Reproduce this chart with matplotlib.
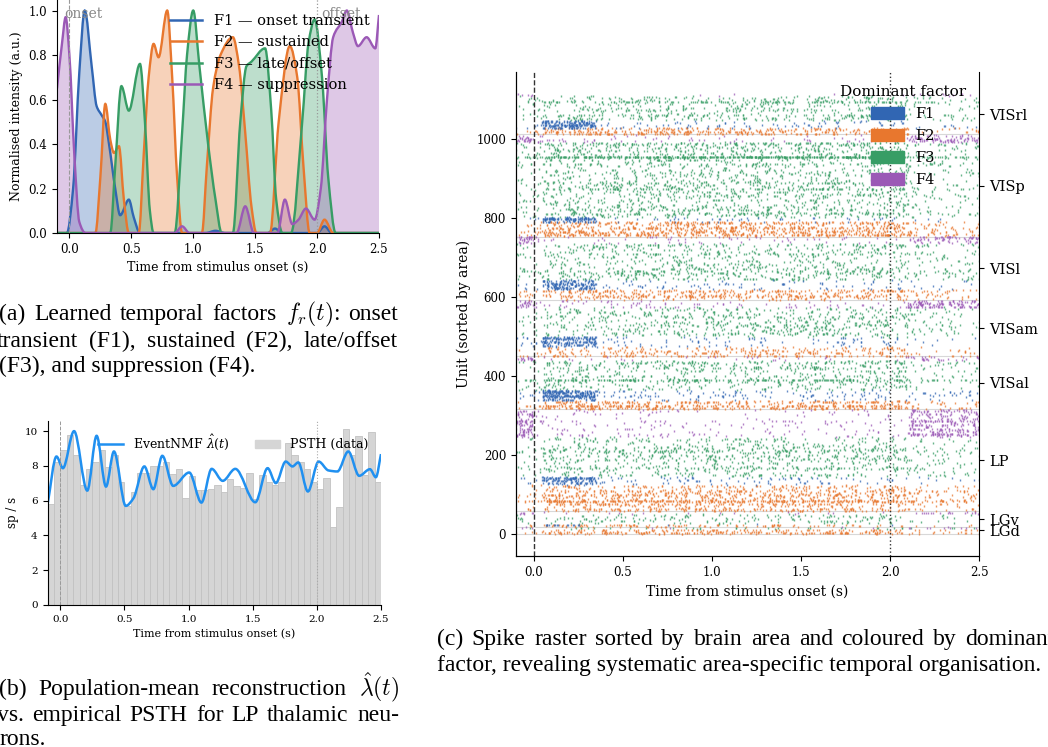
import numpy as np
import matplotlib
matplotlib.use("Agg")
import matplotlib.pyplot as plt
from matplotlib.path import Path
from matplotlib.patches import PathPatch, Patch
from matplotlib.lines import Line2D

plt.rcParams["font.family"] = "DejaVu Serif"
plt.rcParams["mathtext.fontset"] = "dejavuserif"

W, H = 1048, 747

# ---------------- (a) temporal factors, key points (s, a.u.)
f1_t = [-0.1, -0.02, 0.03, 0.08, 0.124, 0.18, 0.22, 0.26, 0.29, 0.32, 0.37, 0.41, 0.48, 0.52, 0.57, 1.1, 1.18, 1.26, 1.6, 1.66, 1.72, 2.0, 2.06, 2.12, 2.5]
f1_y = [0.0, 0.0, 0.2, 0.72, 1.0, 0.75, 0.57, 0.53, 0.5, 0.4, 0.2, 0.08, 0.15, 0.07, 0.0, 0.0, 0.01, 0.0, 0.0, 0.02, 0.0, 0.0, 0.03, 0.0, 0.0]
f2_t = [-0.1, 0.21, 0.25, 0.29, 0.33, 0.36, 0.40, 0.44, 0.48, 0.56, 0.60, 0.64, 0.68, 0.72, 0.79, 0.83, 0.87, 0.91, 1.07, 1.11, 1.16, 1.22, 1.32, 1.37, 1.42, 1.47, 1.51, 1.62, 1.69, 1.78, 1.84, 1.89, 1.94, 2.0, 2.06, 2.13, 2.5]
f2_y = [0.0, 0.0, 0.25, 0.58, 0.42, 0.36, 0.39, 0.15, 0.0, 0.0, 0.35, 0.7, 0.85, 0.79, 1.0, 0.7, 0.25, 0.0, 0.0, 0.3, 0.65, 0.8, 0.88, 0.75, 0.45, 0.12, 0.0, 0.0, 0.5, 0.84, 0.7, 0.3, 0.0, 0.0, 0.06, 0.0, 0.0]
f3_t = [-0.1, 0.33, 0.37, 0.42, 0.48, 0.57, 0.61, 0.65, 0.68, 0.85, 0.91, 0.95, 1.0, 1.05, 1.12, 1.18, 1.23, 1.32, 1.38, 1.43, 1.47, 1.58, 1.63, 1.67, 1.72, 1.79, 1.88, 1.93, 1.98, 2.04, 2.09, 2.15, 2.5]
f3_y = [0.0, 0.0, 0.3, 0.66, 0.55, 0.76, 0.5, 0.1, 0.0, 0.0, 0.45, 0.8, 1.0, 0.75, 0.4, 0.15, 0.0, 0.0, 0.5, 0.75, 0.77, 0.83, 0.55, 0.15, 0.0, 0.0, 0.5, 0.85, 0.96, 0.7, 0.25, 0.0, 0.0]
f4_t = [-0.1, -0.06, -0.03, 0.0, 0.04, 0.08, 0.13, 0.85, 0.91, 0.97, 1.35, 1.42, 1.49, 1.68, 1.74, 1.80, 1.85, 1.91, 1.98, 2.03, 2.08, 2.13, 2.2, 2.24, 2.29, 2.33, 2.4, 2.47, 2.5]
f4_y = [0.65, 0.85, 0.97, 0.8, 0.35, 0.05, 0.0, 0.0, 0.03, 0.0, 0.0, 0.12, 0.0, 0.0, 0.15, 0.04, 0.06, 0.11, 0.06, 0.2, 0.6, 0.88, 0.95, 1.0, 0.9, 0.84, 0.88, 0.83, 0.98]
factor_labels = ["F1 — onset transient", "F2 — sustained", "F3 — late/offset", "F4 — suppression"]
factor_colors = ["#3166b3", "#e8772e", "#379d65", "#9b59b6"]

# ---------------- (b) population mean, LP
lam_t = [-0.1, -0.03, 0.02, 0.107, 0.21, 0.283, 0.356, 0.418, 0.51, 0.57, 0.655, 0.725, 0.795, 0.88, 1.005, 1.10, 1.18, 1.266, 1.364, 1.52, 1.616, 1.68, 1.757, 1.81, 1.855, 1.93, 2.014, 2.09, 2.16, 2.245, 2.33, 2.414, 2.46, 2.5]
lam_y = [5.76, 8.54, 7.87, 10.0, 6.58, 9.73, 6.81, 8.83, 5.70, 6.14, 7.97, 6.66, 8.58, 6.85, 7.62, 5.89, 7.83, 7.14, 7.83, 5.91, 7.87, 7.01, 8.25, 7.97, 8.20, 6.53, 8.25, 7.74, 7.68, 8.83, 7.43, 7.81, 7.35, 8.68]
psth_start, psth_bin = -0.1, 0.05
psth_rate = [5.8, 8.2, 8.9, 9.8, 8.65, 6.9, 7.85, 8.25, 8.9, 7.95, 8.6, 7.1, 5.7, 6.5, 7.6, 7.6,
             8.0, 8.0, 8.25, 7.55, 7.85, 6.15, 7.4, 6.6, 6.6, 6.65, 6.9, 6.5, 7.25, 6.85, 6.75, 7.6,
             6.1, 7.5, 7.1, 6.9, 7.1, 9.3, 8.65, 8.2, 7.8, 7.05, 6.7, 7.3, 4.5, 5.65, 10.1, 8.65,
             9.7, 7.5, 9.95, 7.1]

# ---------------- (c) raster layout
areas = ["LGd", "LGv", "LP", "VISal", "VISam", "VISl", "VISp", "VISrl"]
# units per dominant factor inside each area, stacked bottom-up in stack_order
stack_order = [1, 0, 2, 3]          # F2, F1, F3, F4
area_blocks = [[12, 0, 4, 2], [5, 3, 25, 6], [67, 21, 101, 70], [23, 26, 75, 10],
               [24, 26, 75, 17], [28, 23, 93, 17], [38, 12, 190, 19], [16, 20, 62, 5]]
rate_edges = [-0.1, 0.0, 0.05, 0.35, 2.1, 2.5]
factor_rates = [[1.5, 1.5, 18, 1.5, 1.0],   # F1
                [2.0, 2.0, 7, 7, 2.5],      # F2
                [1.2, 1.2, 3.5, 3.5, 1.5],  # F3
                [12, 3, 1.2, 1.2, 9]]       # F4


def pchip_path(x, y, closed=False):
    x = np.asarray(x, float)
    y = np.asarray(y, float)
    h = np.diff(x)
    d = np.diff(y) / h
    m = np.zeros_like(y)
    for k in range(1, len(x) - 1):
        if d[k - 1] * d[k] > 0:
            w1 = 2 * h[k] + h[k - 1]
            w2 = h[k] + 2 * h[k - 1]
            m[k] = (w1 + w2) / (w1 / d[k - 1] + w2 / d[k])
    m[0], m[-1] = d[0], d[-1]
    verts = [(x[0], y[0])]
    codes = [Path.MOVETO]
    for k in range(len(h)):
        verts += [(x[k] + h[k] / 3, y[k] + m[k] * h[k] / 3),
                  (x[k + 1] - h[k] / 3, y[k + 1] - m[k + 1] * h[k] / 3),
                  (x[k + 1], y[k + 1])]
        codes += [Path.CURVE4] * 3
    if closed:
        verts += [(x[-1], 0), (x[0], 0), (x[0], 0)]
        codes += [Path.LINETO, Path.LINETO, Path.CLOSEPOLY]
    return Path(verts, codes)


def px_axes(left, top, right, bottom):
    return fig.add_axes([left / W, 1 - bottom / H, (right - left) / W, (bottom - top) / H])


fig = plt.figure(figsize=(W / 100, H / 100), dpi=100)

# ---------------- panel (a)
ax = px_axes(57, -0.6, 379, 233)
factors = [(f1_t, f1_y), (f2_t, f2_y), (f3_t, f3_y), (f4_t, f4_y)]
for (t, y), c in zip(factors, factor_colors):
    ax.add_patch(PathPatch(pchip_path(t, y, closed=True), facecolor=c, alpha=0.33, edgecolor="none"))
for (t, y), c in zip(factors, factor_colors):
    ax.add_patch(PathPatch(pchip_path(t, y), facecolor="none", edgecolor=c, lw=1.7))
ax.axvline(0, color="#999999", ls="--", lw=0.8)
ax.axvline(2.0, color="#999999", ls=":", lw=0.9)
ax.text(-0.045, 0.985, "onset", color="#888888", fontsize=10, va="center")
ax.text(2.03, 0.985, "offset", color="#888888", fontsize=10, va="center")
ax.set_xlim(-0.1, 2.5)
ax.set_ylim(0, 1.05)
ax.set_yticks(np.arange(0, 1.01, 0.2))
ax.set_xticks(np.arange(0, 2.51, 0.5))
ax.tick_params(labelsize=8.5)
ax.set_xlabel("Time from stimulus onset (s)", fontsize=9)
ax.set_ylabel("Normalised intensity (a.u.)", fontsize=9)
for s in ("top", "right"):
    ax.spines[s].set_visible(False)
handles = [Line2D([], [], color=c, lw=1.8) for c in factor_colors]
ax.legend(handles, factor_labels, loc="upper left", bbox_to_anchor=(0.31, 0.995),
          frameon=False, fontsize=10.5, handlelength=2.2, labelspacing=0.52)

# ---------------- panel (b)
bx = px_axes(47.5, 420.7, 381, 605)
lefts = psth_start + psth_bin * np.arange(len(psth_rate))
bx.bar(lefts, psth_rate, width=psth_bin, align="edge", color="#d5d5d5",
       edgecolor="#c2c2c2", lw=0.6, label="PSTH (data)")
bx.add_patch(PathPatch(pchip_path(lam_t, lam_y), facecolor="none", edgecolor="#2090f0", lw=1.8))
bx.axvline(0, color="#999999", ls="--", lw=0.7)
bx.axvline(2.0, color="#aaaaaa", ls=":", lw=0.8)
bx.set_xlim(-0.1, 2.5)
bx.set_ylim(0, 10.6)
bx.set_yticks(range(0, 11, 2))
bx.set_xticks(np.arange(0, 2.51, 0.5))
bx.tick_params(labelsize=7.5)
bx.set_xlabel("Time from stimulus onset (s)", fontsize=8)
bx.set_ylabel("sp / s", fontsize=8.5)
for s in ("top", "right"):
    bx.spines[s].set_visible(False)
bx.legend([Line2D([], [], color="#2090f0", lw=1.8), Patch(color="#d5d5d5")],
          [r"EventNMF $\hat{\lambda}(t)$", "PSTH (data)"], ncol=2, loc="upper right",
          frameon=False, fontsize=9, borderaxespad=0.6)

# ---------------- panel (c)
cx = px_axes(515.8, 71.7, 979.3, 556)
rng = np.random.default_rng(11)
spikes = [([], []) for _ in range(4)]
area_edges = [0]
unit = 0
for blocks in area_blocks:
    for n, f in zip(blocks, stack_order):
        for _ in range(n):
            gain = rng.lognormal(0.0, 0.8)
            for a, b, r in zip(rate_edges[:-1], rate_edges[1:], factor_rates[f]):
                k = rng.poisson(r * gain * (b - a))
                spikes[f][0].extend(rng.uniform(a, b, k))
                spikes[f][1].extend([unit] * k)
            unit += 1
    area_edges.append(unit)
n_units = unit

for e in area_edges[:-1]:
    cx.axhline(e, color="#d8d8d8", lw=0.8, zorder=0)
for f in (2, 1, 0, 3):
    cx.scatter(spikes[f][0], spikes[f][1], marker="|", s=1.2, linewidths=1.0,
               color=factor_colors[f], alpha=0.75, rasterized=True)
cx.axvline(0, color="#333333", ls="--", lw=1.0)
cx.axvline(2.0, color="#333333", ls=":", lw=1.0)
cx.set_xlim(-0.1, 2.5)
cx.set_ylim(-0.05 * n_units, 1.05 * n_units)
cx.set_xticks(np.arange(0, 2.51, 0.5))
cx.set_yticks(range(0, 1001, 200))
cx.tick_params(labelsize=8.5)
cx.set_xlabel("Time from stimulus onset (s)", fontsize=10)
cx.set_ylabel("Unit (sorted by area)", fontsize=10)
cx.spines["top"].set_visible(False)
cx.spines["right"].set_visible(False)
cx2 = cx.twinx()
cx2.set_ylim(cx.get_ylim())
mids = [(a + b) / 2 for a, b in zip(area_edges[:-1], area_edges[1:])]
cx2.set_yticks(mids)
cx2.set_yticklabels(areas, fontsize=10.5)
cx2.spines["top"].set_visible(False)
cx.legend([Patch(color=c) for c in factor_colors], ["F1", "F2", "F3", "F4"],
          title="Dominant factor", loc="upper right", frameon=False, fontsize=10.5,
          title_fontsize=11, handlelength=2.2, handleheight=0.85, labelspacing=0.55)

# ---------------- captions
cap = dict(family="Liberation Serif", fontsize=17, math_fontfamily="cm", va="baseline", ha="left")
renderer = fig.canvas.get_renderer()


def caption(text, x0, y, x1=None):
    if x1 is None:
        fig.text(x0 / W, 1 - y / H, text, **cap)
        return
    words = text.split(" ")
    objs = [fig.text(0, 1 - y / H, w, **cap) for w in words]
    widths = [o.get_window_extent(renderer).width for o in objs]
    gap = (x1 - x0 - sum(widths)) / (len(words) - 1)
    x = x0
    for o, w in zip(objs, widths):
        o.set_x(x / W)
        x += w + gap


caption(r"(a) Learned temporal factors $f_r(t)$: onset", -1, 320, 398)
caption("transient (F1), sustained (F2), late/offset", -3, 347, 398)
caption("(F3), and suppression (F4).", -1, 372)
caption(r"(b) Population-mean reconstruction $\hat{\lambda}(t)$", -1, 695, 399)
caption("vs. empirical PSTH for LP thalamic neu-", -3, 721, 399)
caption("rons.", -1, 745)
caption("(c) Spike raster sorted by brain area and coloured by dominant", 437, 645, 1054)
caption("factor, revealing systematic area-specific temporal organisation.", 437, 671)

fig.savefig("out.png", dpi=100)
